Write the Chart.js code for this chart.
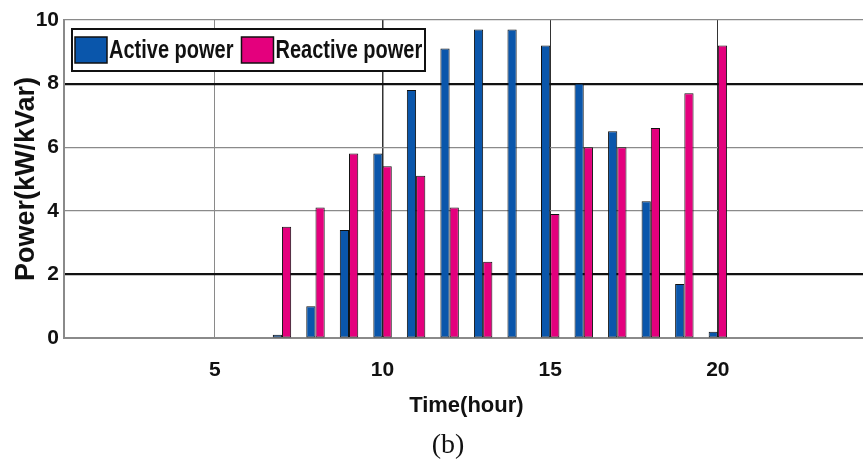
<!DOCTYPE html>
<html>
<head>
<meta charset="utf-8">
<script src="https://cdn.jsdelivr.net/npm/chart.js@4"></script>
<style>
html,body{margin:0;padding:0;background:#fff;overflow:hidden;}
#wrap{width:863px;height:465px;position:relative;overflow:hidden;}
canvas{display:block;}
</style>
</head>
<body>
<div id="wrap"><canvas id="c" width="872" height="465"></canvas></div>
<script>
const hours = ['1','2','3','4','5','6','7','8','9','10','11','12','13','14','15','16','17','18','19','20','21','22','23','24'];
const activePower   = [0,0,0,0,0,0,0.1,1.0,3.4,5.8,7.8,9.1,9.7,9.7,9.2,8.0,6.5,4.3,1.7,0.2,0,0,0,0];
const reactivePower = [0,0,0,0,0,0,3.5,4.1,5.8,5.4,5.1,4.1,2.4,0,3.9,6.0,6.0,6.6,7.7,9.2,0,0,0,0];
const xTickLabels = ['5','10','15','20'];
const yTicks = [0,2,4,6,8,10];
const seriesNames = ['Active power','Reactive power'];
const seriesColors = ['#0a56ab','#e4007d'];
const subCaption = '(b)';

const SANS = "'Liberation Sans',Arial,sans-serif";

const insideLegend = {
  id:'insideLegend',
  afterDraw(chart){
    const ctx = chart.ctx;
    const ca = chart.chartArea;
    const x0 = ca.left + 8, y0 = ca.top + 9, w = 353, h = 42;
    ctx.save();
    ctx.fillStyle = '#fff';
    ctx.fillRect(x0, y0, w, h);
    ctx.lineWidth = 2;
    ctx.strokeStyle = '#111';
    ctx.strokeRect(x0, y0, w, h);
    const sx = 0.8;
    let x = x0 + 3;
    chart.data.datasets.forEach((ds) => {
      ctx.fillStyle = ds.backgroundColor;
      ctx.fillRect(x, y0 + 8, 32, 26);
      ctx.lineWidth = 1.5;
      ctx.strokeStyle = '#111';
      ctx.strokeRect(x, y0 + 8, 32, 26);
      ctx.save();
      ctx.translate(x + 34, y0 + h/2 + 1);
      ctx.scale(sx, 1);
      ctx.font = "bold 25px " + SANS;
      ctx.textBaseline = 'middle';
      ctx.textAlign = 'left';
      ctx.fillStyle = '#111';
      ctx.fillText(ds.label, 0, 0);
      const tw = ctx.measureText(ds.label).width * sx;
      ctx.restore();
      x += 34 + tw + 8;
    });
    ctx.font = "28px 'Liberation Serif','Times New Roman',serif";
    ctx.textAlign = 'center';
    ctx.textBaseline = 'middle';
    ctx.fillStyle = '#111';
    ctx.fillText(subCaption, 448, 446);
    ctx.restore();
  }
};

new Chart(document.getElementById('c'), {
  type: 'bar',
  data: {
    labels: hours,
    datasets: [
      {label: seriesNames[0], data: activePower, backgroundColor: seriesColors[0], borderColor: '#111', borderWidth: 1, borderSkipped: false},
      {label: seriesNames[1], data: reactivePower, backgroundColor: seriesColors[1], borderColor: '#111', borderWidth: 1, borderSkipped: false}
    ]
  },
  options: {
    responsive: false,
    animation: false,
    layout: {padding: {top: 20, right: 0, bottom: 42, left: 0}},
    plugins: {legend: {display: false}, tooltip: {enabled: false}, title: {display: false}},
    datasets: {bar: {categoryPercentage: 0.55, barPercentage: 1.0}},
    scales: {
      x: {
        offset: true,
        grid: {
          offset: false,
          drawTicks: false,
          color: (c) => {
            const l = hours[c.index];
            if (l === '5') return '#8a8a8a';
            if (xTickLabels.includes(l)) return '#333';
            return 'rgba(0,0,0,0)';
          },
          lineWidth: (c) => hours[c.index] === '10' ? 1.5 : 1
        },
        border: {display: true, color: '#8a8a8a', width: 2},
        ticks: {
          autoSkip: false,
          maxRotation: 0,
          padding: 20,
          color: '#111',
          font: {family: SANS, size: 21, weight: 'bold'},
          callback: (v, i) => xTickLabels.includes(hours[i]) ? hours[i] : ''
        },
        title: {display: true, text: 'Time(hour)', color: '#111', font: {family: SANS, size: 22, weight: 'bold'}, padding: {top: 0, bottom: 4}},
        afterFit: (s) => { s.height = 85; }
      },
      y: {
        min: 0, max: 10,
        grid: {
          drawTicks: false,
          color: (c) => (c.tick && (c.tick.value === 2 || c.tick.value === 8)) ? '#111' : '#8a8a8a',
          lineWidth: (c) => (c.tick && (c.tick.value === 2 || c.tick.value === 8)) ? 2.2 : 1.2
        },
        border: {display: true, color: '#8a8a8a', width: 2},
        afterBuildTicks: (s) => { s.ticks = yTicks.map(v => ({value: v})); },
        ticks: {
          padding: 5,
          color: '#111',
          font: {family: SANS, size: 21, weight: 'bold'}
        },
        title: {display: true, text: 'Power(kW/kVar)', color: '#111', font: {family: SANS, size: 27, weight: 'bold'}, padding: {top: 10, bottom: 0}},
        afterFit: (s) => { s.width = 64; }
      }
    }
  },
  plugins: [insideLegend]
});
</script>
</body>
</html>
